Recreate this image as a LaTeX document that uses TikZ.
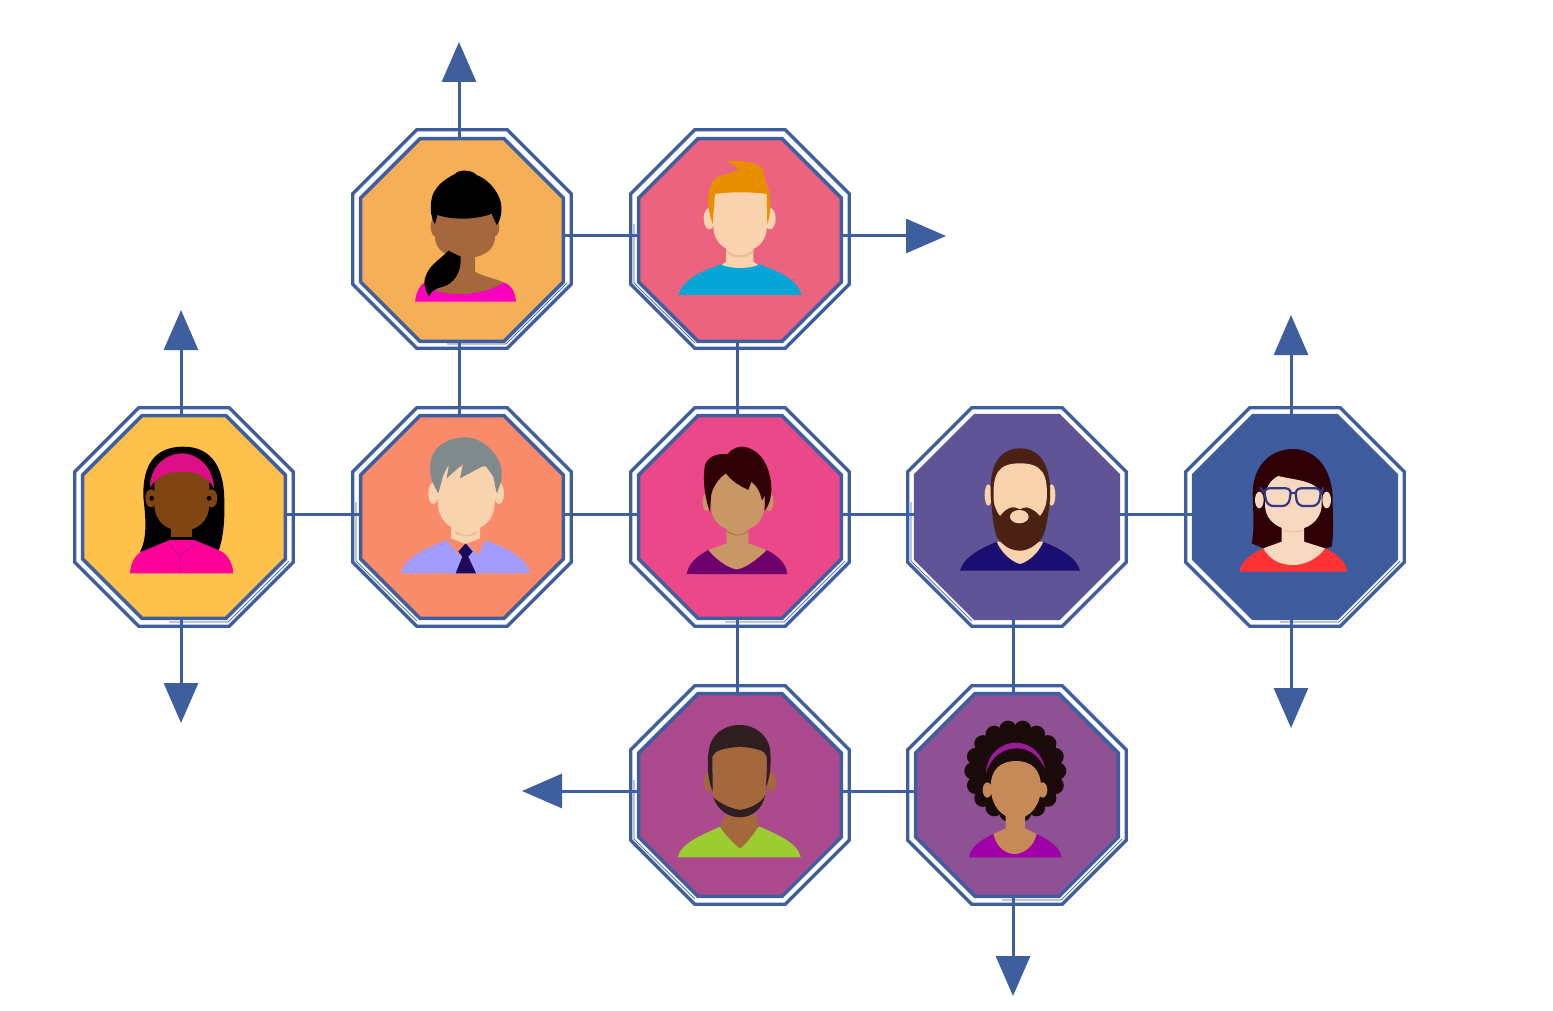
\documentclass[tikz,border=0pt]{standalone}
\usepackage{tikz}
\usepackage{xcolor}
\usetikzlibrary{arrows.meta,shapes.geometric}
\definecolor{linkblue}{RGB}{62,94,158}
\definecolor{tileorange}{RGB}{245,176,87}
\definecolor{tilepink}{RGB}{236,99,128}
\definecolor{tileyellow}{RGB}{253,193,76}
\definecolor{tilecoral}{RGB}{249,138,106}
\definecolor{tilerose}{RGB}{234,72,136}
\definecolor{tileindigo}{RGB}{95,85,150}
\definecolor{tileblue}{RGB}{63,93,158}
\definecolor{tileplum}{RGB}{171,74,140}
\definecolor{tilepurple}{RGB}{142,81,147}
% skin, hair and shirt colours
\definecolor{skintan}{RGB}{165,103,60}
\definecolor{skinpale}{RGB}{248,211,174}
\definecolor{skinpaler}{RGB}{247,217,192}
\definecolor{skinshade}{RGB}{235,188,147}
\definecolor{skinbrown}{RGB}{127,69,19}
\definecolor{skinbeige}{RGB}{201,151,102}
\definecolor{skinbeigeshade}{RGB}{176,122,78}
\definecolor{skinwarm}{RGB}{198,137,88}
\definecolor{shirtmagenta}{RGB}{250,0,190}
\definecolor{shirtpink}{RGB}{255,0,153}
\definecolor{shirtcyan}{RGB}{5,165,213}
\definecolor{shirtlilac}{RGB}{164,155,255}
\definecolor{shirtplum}{RGB}{110,0,110}
\definecolor{shirtnavy}{RGB}{26,14,115}
\definecolor{shirtred}{RGB}{255,51,51}
\definecolor{shirtlime}{RGB}{156,204,47}
\definecolor{shirtviolet}{RGB}{160,0,168}
\definecolor{tieblue}{RGB}{31,10,85}
\definecolor{hairorange}{RGB}{232,143,0}
\definecolor{hairgrey}{RGB}{127,138,140}
\definecolor{hairmaroon}{RGB}{47,0,5}
\definecolor{hairbrown}{RGB}{74,33,19}
\definecolor{hairdark}{RGB}{47,30,34}
\definecolor{hairafro}{RGB}{26,10,10}
\definecolor{bandpink}{RGB}{220,15,135}
\definecolor{bandviolet}{RGB}{154,26,154}
\definecolor{specblue}{RGB}{46,58,130}
\tikzset{
	ringout/.style={regular polygon,regular polygon sides=8,minimum size=236.5pt,inner sep=0pt,outer sep=0pt,draw=linkblue,line width=3.4pt},
	tile/.style={regular polygon,regular polygon sides=8,minimum size=219.5pt,inner sep=0pt,outer sep=0pt,draw=linkblue,line width=3.4pt,fill=#1},
	link/.style={draw=linkblue,line width=3pt},
	flow/.style={link,-{Triangle[length=40pt,width=34pt]}},
	sliver/.style={draw=linkblue,line width=0.7pt},
	crop/.style={shift={(#1)},x=0.33333pt,y=-0.33333pt}
}
% colour, left, right, top, widest, chin
\newcommand{\facefill}[6]{\fill[#1] (#2,#4) -- (#2,#5) .. controls (#2,{#5+(#6-#5)*0.7}) and ({(#2+#3)/2-(#3-#2)*0.27},#6) .. ({(#2+#3)/2},#6) .. controls ({(#2+#3)/2+(#3-#2)*0.27},#6) and (#3,{#5+(#6-#5)*0.7}) .. (#3,#5) -- (#3,#4) -- cycle;}

\begin{document}
\begin{tikzpicture}[x=1pt,y=-1pt]
	\useasboundingbox (0,0) rectangle (1553,1011);

	% outer rings
	\foreach \ringname/\px/\py in {ra/462/239,rb/740/239,rc/184/517,rd/462/517,re/740/517,rf/1017/517,rg/1295/517,rh/740/795,ri/1017/795}
		\node[ringout] (\ringname) at (\px,\py) {};

	% tiles
	\node[tile=tileorange] (ponytail) at (462,240) {};
	\node[tile=tilepink] (redhead) at (740,240) {};
	\node[tile=tileyellow] (headband) at (184,517) {};
	\node[tile=tilecoral] (manager) at (462,517) {};
	\node[tile=tilerose] (shorthair) at (740,517) {};
	\node[tile=tileindigo,draw=tileindigo] (beard) at (1017,517) {};
	\node[tile=tileblue] (glasses) at (1295,517) {};
	\node[tile=tileplum] (goatee) at (740,795) {};
	\node[tile=tilepurple] (afro) at (1017,795) {};

	% free ends of the arrows
	\coordinate (tipup) at (459,42);
	\coordinate (tipright) at (946,236);
	\coordinate (tipyellowup) at (181,310);
	\coordinate (tipyellowdown) at (181,723);
	\coordinate (tipblueup) at (1291,315);
	\coordinate (tipbluedown) at (1291,728);
	\coordinate (tipleft) at (522,791);
	\coordinate (tipdown) at (1013,996);

	% links
	\draw[link] ([yshift=4pt]ponytail.east) -- ([yshift=4pt]redhead.west);
	\draw[link] ([xshift=-3pt]ponytail.south) -- ([xshift=-3pt]manager.north);
	\draw[link] ([xshift=-3pt]redhead.south) -- ([xshift=-3pt]shorthair.north);
	\draw[link] ([yshift=3pt]headband.east) -- ([yshift=3pt]manager.west);
	\draw[link] ([yshift=3pt]manager.east) -- ([yshift=3pt]shorthair.west);
	\draw[link] ([yshift=3pt]shorthair.east) -- ([yshift=3pt]beard.west);
	\draw[link] ([yshift=3pt]beard.east) -- ([yshift=3pt]glasses.west);
	\draw[link] ([xshift=-3pt]shorthair.south) -- ([xshift=-3pt]goatee.north);
	\draw[link] ([xshift=-4pt]beard.south) -- ([xshift=-4pt]afro.north);
	\draw[link] ([yshift=4pt]goatee.east) -- ([yshift=4pt]afro.west);

	% arrows
	\draw[flow] ([xshift=-3pt]ponytail.north) -- (tipup);
	\draw[flow] ([yshift=4pt]redhead.east) -- (tipright);
	\draw[flow] ([xshift=-3pt]headband.north) -- (tipyellowup);
	\draw[flow] ([xshift=-3pt]headband.south) -- (tipyellowdown);
	\draw[flow] ([xshift=-4pt]glasses.north) -- (tipblueup);
	\draw[flow] ([xshift=-4pt]glasses.south) -- (tipbluedown);
	\draw[flow] ([yshift=4pt]goatee.west) -- (tipleft);
	\draw[flow] ([xshift=-4pt]afro.south) -- (tipdown);

	% thin stray lines in the gaps
	\foreach \ringname in {ra,rc,re,rg,ri}
		\draw[sliver] ([shift={(-15,105)}]\ringname.center) -- ([shift={(44,105)}]\ringname.center) -- ([shift={(105,44)}]\ringname.center);
	\foreach \ringname in {rb,rd,rf,rh}
		\draw[sliver] ([shift={(-106,-15)}]\ringname.center) -- ([shift={(-106,44)}]\ringname.center) -- ([shift={(-45,104)}]\ringname.center);

	% woman with ponytail
	\begin{scope}[crop={340,30}]
		\fill[shirtmagenta] (225,815) .. controls (228,790) and (238,768) .. (250,760) -- (490,757) .. controls (515,765) and (525,785) .. (528,815) -- cycle;
		\fill[skintan] (340,660) -- (405,660) -- (405,725) .. controls (430,740) and (465,745) .. (490,757) .. controls (430,800) and (320,800) .. (270,775) -- cycle;
		\fill[skintan] (287,590) ellipse (15 and 30);
		\fill[skintan] (463,590) ellipse (15 and 30);
		\facefill{skintan}{285}{465}{555}{620}{684}
		\fill[black] (325,662) .. controls (300,690) and (255,710) .. (253,760) .. controls (255,780) and (262,790) .. (268,800) .. controls (272,785) and (285,775) .. (310,770) .. controls (340,760) and (365,730) .. (362,680) -- cycle;
		\fill[black] (285,582) .. controls (270,560) and (268,520) .. (280,490) .. controls (295,460) and (320,445) .. (345,432) .. controls (355,418) and (395,418) .. (410,435) .. controls (450,450) and (490,500) .. (484,545) .. controls (482,565) and (478,575) .. (470,585) -- (455,552) .. controls (400,570) and (340,570) .. (292,555) -- cycle;
	\end{scope}

	% man with orange quiff
	\begin{scope}[crop={620,120}]
		\fill[shirtcyan] (175,525) .. controls (190,475) and (250,452) .. (305,432) -- (415,432) .. controls (470,452) and (530,475) .. (545,525) -- cycle;
		\fill[skinpale] (318,380) -- (400,380) -- (400,425) -- (415,435) .. controls (380,447) and (340,447) .. (305,435) -- (318,425) -- cycle;
		\fill[skinshade] (318,388) .. controls (340,412) and (380,412) .. (400,388) -- (400,396) .. controls (380,418) and (340,418) .. (318,396) -- cycle;
		\fill[skinpale] (268,296) ellipse (17 and 32);
		\fill[skinpale] (450,296) ellipse (17 and 32);
		\facefill{skinpale}{280}{441}{205}{315}{395}
		\fill[hairorange] (278,312) .. controls (262,270) and (258,215) .. (278,185) .. controls (295,162) and (325,165) .. (355,150) .. controls (345,135) and (335,130) .. (320,122) .. controls (365,122) and (420,125) .. (430,150) .. controls (432,175) and (440,190) .. (445,205) .. controls (455,240) and (452,280) .. (442,312) -- (440,222) .. controls (390,215) and (330,215) .. (285,222) -- cycle;
	\end{scope}

	% woman with headband
	\begin{scope}[crop={70,400}]
		\fill[black] (210,455) .. controls (235,410) and (225,340) .. (220,290) .. controls (218,200) and (250,140) .. (340,140) .. controls (430,140) and (462,210) .. (463,300) .. controls (465,370) and (458,420) .. (445,455) -- cycle;
		\fill[skinbrown] (303,340) rectangle (367,420);
		\fill[black] (303,412) rectangle (367,420);
		\fill[shirtpink] (180,520) .. controls (182,490) and (195,465) .. (215,455) -- (300,420) -- (372,420) -- (450,452) .. controls (475,465) and (488,490) .. (490,520) -- cycle;
		\draw[bandviolet,line width=0.7pt] (330,520) -- (330,470) -- (298,432);
		\draw[bandviolet,line width=0.7pt] (330,470) -- (372,432);
		\fill[skinbrown] (243,295) ellipse (17 and 27);
		\fill[skinbrown] (425,295) ellipse (17 and 27);
		\facefill{skinbrown}{253}{418}{208}{310}{392}
		\fill[black] (245,295) circle (7);
		\fill[black] (417,295) circle (7);
		\fill[bandpink] (240,262) .. controls (240,200) and (285,160) .. (340,160) .. controls (395,165) and (430,210) .. (432,265) .. controls (410,225) and (375,215) .. (337,215) .. controls (295,215) and (265,225) .. (240,262) -- cycle;
	\end{scope}

	% man with grey hair and tie
	\begin{scope}[crop={350,400}]
		\fill[shirtlilac] (152,520) .. controls (165,470) and (230,445) .. (290,420) -- (405,420) .. controls (470,445) and (530,470) .. (540,520) -- cycle;
		\fill[tilecoral] (290,420) -- (405,420) -- (385,465) -- (350,430) -- (330,468) -- cycle;
		\fill[skinpale] (303,370) -- (390,370) -- (390,415) -- (347,432) -- (303,415) -- cycle;
		\fill[skinshade] (315,392) .. controls (340,410) and (360,410) .. (380,392) -- (380,400) .. controls (360,412) and (340,412) .. (315,400) -- cycle;
		\fill[tieblue] (347,430) -- (368,455) -- (355,470) -- (378,520) -- (317,520) -- (337,470) -- (325,455) -- cycle;
		\fill[skinpale] (250,280) ellipse (15 and 32);
		\fill[skinpale] (447,280) ellipse (15 and 32);
		\facefill{skinpale}{263}{435}{200}{300}{392}
		\fill[hairgrey] (265,280) .. controls (240,240) and (232,200) .. (250,160) .. controls (270,125) and (310,112) .. (350,112) .. controls (400,115) and (440,160) .. (452,195) .. controls (460,225) and (452,255) .. (440,280) -- (430,230) -- (405,195) -- (330,235) -- (340,190) -- (290,235) -- (298,190) -- (280,225) -- cycle;
	\end{scope}

	% woman with dark short hair
	\begin{scope}[crop={630,400}]
		\fill[shirtplum] (170,522) .. controls (175,490) and (205,465) .. (235,450) -- (410,450) .. controls (440,465) and (470,490) .. (472,522) -- cycle;
		\fill[skinbeige] (290,385) -- (355,385) -- (355,430) -- (410,450) .. controls (380,480) and (345,505) .. (320,508) .. controls (295,505) and (260,480) .. (235,450) -- (290,430) -- cycle;
		\fill[skinbeigeshade] (290,390) .. controls (310,408) and (335,408) .. (355,390) -- (355,396) .. controls (335,410) and (310,410) .. (290,396) -- cycle;
		\fill[skinbeige] (230,305) ellipse (12 and 28);
		\fill[skinbeige] (418,305) ellipse (12 and 28);
		\facefill{skinbeige}{243}{403}{215}{315}{392}
		\fill[hairmaroon] (240,335) .. controls (222,290) and (218,230) .. (225,195) .. controls (235,165) and (270,160) .. (293,162) .. controls (305,145) and (330,135) .. (350,142) .. controls (395,155) and (420,200) .. (424,260) .. controls (425,295) and (415,320) .. (404,332) -- (405,285) -- (396,302) .. controls (392,280) and (380,255) .. (364,245) -- (355,270) .. controls (335,260) and (305,245) .. (288,220) .. controls (265,235) and (245,265) .. (243,290) -- cycle;
	\end{scope}

	% man with full beard
	\begin{scope}[crop={905,400}]
		\fill[shirtnavy] (165,512) .. controls (175,470) and (230,445) .. (275,425) -- (415,425) .. controls (460,445) and (515,470) .. (525,512) -- cycle;
		\fill[skinpale] (275,425) -- (415,425) .. controls (400,460) and (370,485) .. (345,492) .. controls (320,485) and (290,460) .. (275,425) -- cycle;
		\fill[skinpale] (250,285) ellipse (11 and 32);
		\fill[skinpale] (440,285) ellipse (11 and 32);
		\fill[hairbrown] (258,300) .. controls (250,210) and (275,145) .. (345,145) .. controls (415,145) and (440,210) .. (435,300) .. controls (430,340) and (425,390) .. (410,415) .. controls (390,440) and (365,452) .. (345,452) .. controls (320,452) and (295,440) .. (275,410) .. controls (265,380) and (262,340) .. (258,300) -- cycle;
		\fill[skinpale] (266,300) .. controls (262,220) and (280,190) .. (345,190) .. controls (410,190) and (430,220) .. (425,300) .. controls (423,320) and (415,335) .. (405,348) .. controls (395,335) and (380,325) .. (365,322) .. controls (355,322) and (350,325) .. (345,328) .. controls (340,325) and (335,322) .. (320,322) .. controls (305,325) and (295,335) .. (285,348) .. controls (275,335) and (268,320) .. (266,300) -- cycle;
		\fill[skinpale] (343,350) ellipse (28 and 20);
	\end{scope}

	% woman with glasses
	\begin{scope}[crop={1180,400}]
		\fill[shirtred] (178,515) .. controls (182,485) and (215,460) .. (250,445) -- (435,445) .. controls (470,460) and (498,485) .. (502,515) -- cycle;
		\fill[hairmaroon] (215,430) .. controls (225,380) and (218,320) .. (218,280) .. controls (218,200) and (270,147) .. (338,147) .. controls (410,147) and (458,210) .. (458,300) .. controls (458,350) and (462,400) .. (455,440) -- (440,445) -- (250,445) -- cycle;
		\fill[skinpaler] (305,375) -- (372,375) -- (372,425) -- (435,445) .. controls (410,480) and (370,495) .. (340,495) .. controls (300,495) and (270,480) .. (250,445) -- (305,425) -- cycle;
		\fill[skinpaler] (238,300) ellipse (13 and 25);
		\fill[skinpaler] (440,300) ellipse (13 and 25);
		\fill[skinpaler] (255,300) .. controls (255,265) and (270,240) .. (295,228) .. controls (340,240) and (405,240) .. (425,280) -- (425,320) .. controls (420,365) and (380,390) .. (340,390) .. controls (300,390) and (258,365) .. (255,320) -- cycle;
		\draw[skinshade,line width=0.8pt] (310,390) .. controls (330,398) and (350,398) .. (368,390);
		\draw[specblue,line width=2.2pt,rounded corners=6pt] (250,265) -- (335,265) -- (325,318) -- (262,318) -- cycle;
		\draw[specblue,line width=2.2pt,rounded corners=6pt] (345,265) -- (425,265) -- (415,318) -- (352,318) -- cycle;
		\draw[specblue,line width=2.2pt] (332,280) -- (347,280);
		\draw[specblue,line width=2.2pt] (240,262) -- (252,278);
		\draw[specblue,line width=2.2pt] (430,262) -- (423,282);
	\end{scope}

	% man with goatee
	\begin{scope}[crop={630,680}]
		\fill[shirtlime] (143,532) .. controls (152,490) and (215,465) .. (270,440) -- (390,440) .. controls (445,465) and (505,490) .. (512,532) -- cycle;
		\fill[skintan] (285,405) -- (380,405) -- (385,440) .. controls (365,470) and (345,495) .. (330,505) .. controls (315,495) and (290,470) .. (270,440) -- cycle;
		\fill[skintan] (235,305) ellipse (13 and 30);
		\fill[skintan] (425,305) ellipse (13 and 30);
		\facefill{skintan}{247}{410}{190}{320}{405}
		\fill[hairdark] (250,352) .. controls (270,370) and (300,385) .. (330,390) .. controls (360,385) and (395,370) .. (405,345) .. controls (400,385) and (365,412) .. (330,412) .. controls (295,412) and (262,390) .. (250,352) -- cycle;
		\fill[hairdark] (248,335) .. controls (230,290) and (230,230) .. (240,195) .. controls (255,150) and (295,135) .. (330,135) .. controls (370,135) and (410,160) .. (420,205) .. controls (425,250) and (420,295) .. (408,320) .. controls (410,280) and (412,250) .. (410,230) .. controls (405,210) and (380,205) .. (330,200) .. controls (280,205) and (255,210) .. (247,230) -- cycle;
	\end{scope}

	% woman with afro
	\begin{scope}[crop={905,680}]
		\fill[hairafro] (331,273) circle (136);
		\foreach \ang in {0,20,...,340}
			\fill[hairafro] (331,273) ++(\ang:127) circle (26);
		\fill[shirtviolet] (192,532) .. controls (195,505) and (225,480) .. (265,462) -- (395,462) .. controls (435,480) and (466,505) .. (470,532) -- cycle;
		\fill[skinwarm] (302,405) -- (360,405) -- (360,445) -- (395,462) .. controls (385,505) and (350,522) .. (330,522) .. controls (305,522) and (275,505) .. (265,462) -- (302,445) -- cycle;
		\fill[skinwarm] (247,330) ellipse (14 and 23);
		\fill[skinwarm] (413,330) ellipse (14 and 23);
		\fill[skinwarm] (257,320) .. controls (257,270) and (285,243) .. (333,243) .. controls (380,243) and (408,270) .. (408,320) .. controls (408,375) and (375,416) .. (333,416) .. controls (290,416) and (257,375) .. (257,320) -- cycle;
		\fill[bandviolet] (243,280) .. controls (245,225) and (285,188) .. (335,188) .. controls (380,190) and (415,225) .. (420,268) .. controls (405,230) and (375,205) .. (335,205) .. controls (290,205) and (255,235) .. (243,280) -- cycle;
	\end{scope}
\end{tikzpicture}
\end{document}
